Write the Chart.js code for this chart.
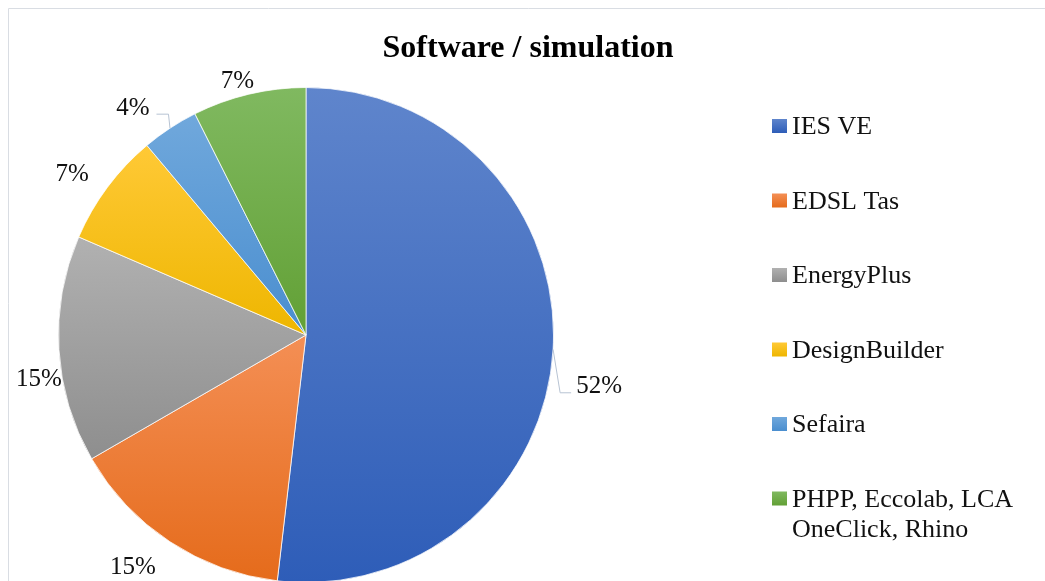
<!DOCTYPE html>
<html>
<head>
<meta charset="utf-8">
<script src="https://cdn.jsdelivr.net/npm/chart.js@4.4.1/dist/chart.umd.min.js"></script>
<style>
  html, body { margin: 0; padding: 0; background: #fff; overflow: hidden; }
  #myChart { position: absolute; left: 8px; top: 8px; }
</style>
</head>
<body>
<canvas id="myChart" width="1040" height="590"></canvas>
<script>
// survey answers (count of respondents per tool)
const categories = ['IES VE', 'EDSL Tas', 'EnergyPlus', 'DesignBuilder', 'Sefaira', 'PHPP, Eccolab, LCA OneClick, Rhino'];
const responses = [14, 4, 4, 2, 1, 2];
const chartTitle = 'Software / simulation';

// excel-like gradient fills, top -> bottom
const lightColors = ['#5f85cc', '#f48f55', '#b1b1b1', '#ffc936', '#70a8dc', '#80b960'];
const darkColors  = ['#2e5db8', '#e56b1b', '#8e8e8e', '#eeb600', '#4a8ecf', '#62a035'];

// nudges for the data labels, and which ones get a leader line
const labelNudgeX = [22, -24, 4, -16, -24, -6];
const labelNudgeY = [36, 6, 29, 2, 0, 11];
const hasLeader = [true, false, false, false, true, false];

const serif = '"Liberation Serif", "Times New Roman", serif';

function pct(v) {
    let total = responses.reduce((a, b) => a + b, 0);
    return Math.round(v / total * 100) + '%';
}

function wrapText(ctx, text, maxWidth) {
    let words = text.split(' ');
    let lines = [];
    let line = '';
    words.forEach(w => {
        let test = line ? line + ' ' + w : w;
        if (ctx.measureText(test).width > maxWidth && line) {
            lines.push(line);
            line = w;
        } else {
            line = test;
        }
    });
    if (line) lines.push(line);
    return lines;
}

const gradientFill = {
    id: 'gradientFill',
    beforeDatasetsDraw(chart) {
        let ctx = chart.ctx;
        chart.getDatasetMeta(0).data.forEach((arc, i) => {
            let s = arc.startAngle, e = arc.endAngle, r = arc.outerRadius;
            let ys = [arc.y, arc.y + r * Math.sin(s), arc.y + r * Math.sin(e)];
            for (let k = -2; k <= 2; k++) {
                let bottom = Math.PI / 2 + k * 2 * Math.PI;
                let top = -Math.PI / 2 + k * 2 * Math.PI;
                if (bottom > s && bottom < e) ys.push(arc.y + r);
                if (top > s && top < e) ys.push(arc.y - r);
            }
            let y0 = Math.min(...ys), y1 = Math.max(...ys);
            let g = ctx.createLinearGradient(0, y0, 0, y1);
            g.addColorStop(0, lightColors[i]);
            g.addColorStop(1, darkColors[i]);
            arc.options.backgroundColor = g;
        });
    }
};

const extras = {
    id: 'extras',
    beforeDraw(chart) {
        let ctx = chart.ctx;
        ctx.save();
        ctx.strokeStyle = '#d9dde3';
        ctx.lineWidth = 1;
        ctx.beginPath();
        ctx.moveTo(0.5, chart.height);
        ctx.lineTo(0.5, 0.5);
        ctx.lineTo(chart.width, 0.5);
        ctx.stroke();
        // title centred on the whole chart frame
        ctx.font = 'bold 32px ' + serif;
        ctx.fillStyle = '#000';
        ctx.textAlign = 'center';
        ctx.textBaseline = 'alphabetic';
        ctx.fillText(chartTitle, chart.width / 2, 49);
        ctx.restore();
    },
    afterDatasetsDraw(chart) {
        let ctx = chart.ctx;
        ctx.save();
        ctx.font = '25px ' + serif;
        ctx.fillStyle = '#111';
        ctx.textAlign = 'center';
        ctx.textBaseline = 'middle';
        chart.getDatasetMeta(0).data.forEach((arc, i) => {
            let mid = (arc.startAngle + arc.endAngle) / 2;
            let r = arc.outerRadius;
            let cx = arc.x + Math.cos(mid) * (r + 24) + labelNudgeX[i];
            let cy = arc.y + Math.sin(mid) * (r + 24) + labelNudgeY[i];
            let txt = pct(responses[i]);
            ctx.fillText(txt, cx, cy);
            if (hasLeader[i]) {
                let w = ctx.measureText(txt).width;
                let px = arc.x + Math.cos(mid) * r;
                let py = arc.y + Math.sin(mid) * r;
                let right = Math.cos(mid) > 0;
                let ex = right ? cx - w / 2 - 16 : cx + w / 2 + 19;
                let endX = right ? cx - w / 2 - 5 : cx + w / 2 + 7;
                let ly = cy + 6;
                ctx.strokeStyle = '#b7c3d3';
                ctx.lineWidth = 1;
                ctx.beginPath();
                ctx.moveTo(px, py);
                ctx.lineTo(ex, ly);
                ctx.lineTo(endX, ly);
                ctx.stroke();
            }
        });
        ctx.restore();
    },
    afterDraw(chart) {
        // legend drawn by hand so the last entry can wrap
        let ctx = chart.ctx;
        ctx.save();
        ctx.font = '26px ' + serif;
        ctx.textAlign = 'left';
        ctx.textBaseline = 'alphabetic';
        categories.forEach((name, i) => {
            let top = 111 + i * 74.5;
            let g = ctx.createLinearGradient(0, top, 0, top + 14);
            g.addColorStop(0, lightColors[i]);
            g.addColorStop(1, darkColors[i]);
            ctx.fillStyle = g;
            ctx.fillRect(764, top, 15, 14);
            ctx.fillStyle = '#111';
            let lines = wrapText(ctx, name, 245);
            lines.forEach((ln, j) => {
                ctx.fillText(ln, 784, top + 15 + j * 30);
            });
        });
        ctx.restore();
    }
};

let myChart = document.getElementById('myChart').getContext('2d');

let pieChart = new Chart(myChart, {
    type: 'pie',
    data: {
        labels: categories,
        datasets: [{
            data: responses,
            backgroundColor: darkColors,
            borderColor: 'rgba(255,255,255,0.75)',
            borderWidth: 1
        }]
    },
    options: {
        responsive: false,
        animation: false,
        devicePixelRatio: 1,
        layout: {
            padding: { left: 50, right: 494, top: 79, bottom: 15 }
        },
        plugins: {
            legend: { display: false },
            tooltip: { enabled: false },
            title: { display: false }
        }
    },
    plugins: [gradientFill, extras]
});
</script>
</body>
</html>
